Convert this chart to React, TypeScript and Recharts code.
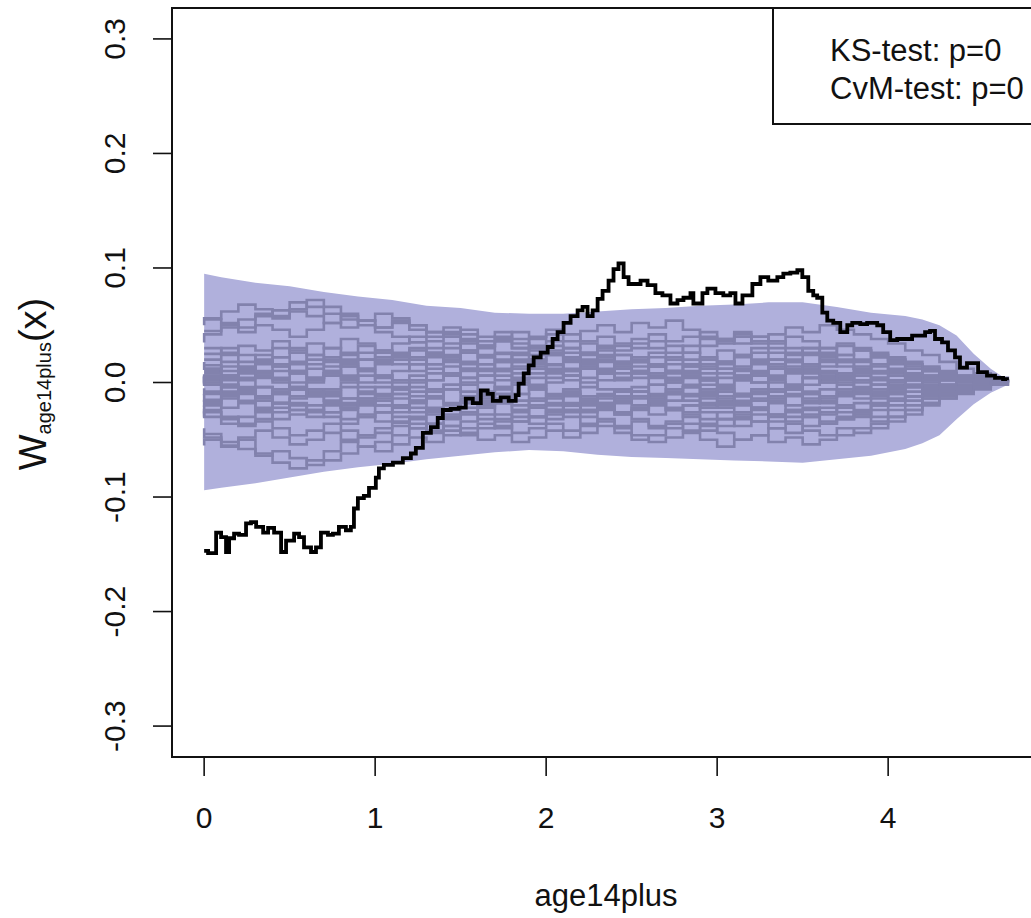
import React from 'react';
import { ComposedChart, Line, Area, XAxis, YAxis } from 'recharts';

const xTicks = [0, 1, 2, 3, 4];
const xTickLabels = ['0', '1', '2', '3', '4'];
const yTicks = [-0.3, -0.2, -0.1, 0, 0.1, 0.2, 0.3];
const yTickLabels = ['-0.3', '-0.2', '-0.1', '0.0', '0.1', '0.2', '0.3'];

const bandX = [0, 0.1, 0.3, 0.5, 0.7, 0.9, 1.1, 1.3, 1.5, 1.7, 1.9, 2.1, 2.3, 2.5, 2.7, 2.9, 3.1, 3.3, 3.5, 3.7, 3.9, 4.1, 4.2, 4.3, 4.4, 4.5, 4.6, 4.7];
const bandUpper = [0.095, 0.092, 0.087, 0.084, 0.079, 0.075, 0.072, 0.067, 0.065, 0.061, 0.060, 0.060, 0.062, 0.064, 0.065, 0.067, 0.068, 0.070, 0.070, 0.066, 0.061, 0.058, 0.055, 0.050, 0.041, 0.025, 0.012, 0.002];
const bandLower = [-0.094, -0.092, -0.088, -0.083, -0.078, -0.074, -0.071, -0.067, -0.064, -0.061, -0.059, -0.060, -0.063, -0.065, -0.066, -0.067, -0.068, -0.069, -0.070, -0.067, -0.064, -0.058, -0.053, -0.046, -0.032, -0.019, -0.009, -0.002];

const observedX = [
  0, 0.023, 0.07, 0.099, 0.128, 0.146, 0.175, 0.204, 0.245, 0.274,
  0.304, 0.345, 0.374, 0.409, 0.45, 0.479, 0.526, 0.555, 0.584, 0.625,
  0.654, 0.683, 0.724, 0.753, 0.788, 0.829, 0.858, 0.876, 0.899, 0.934,
  0.964, 1.004, 1.022, 1.051, 1.104, 1.162, 1.209, 1.238, 1.279, 1.326,
  1.366, 1.396, 1.442, 1.489, 1.53, 1.571, 1.618, 1.658, 1.688, 1.734,
  1.781, 1.822, 1.839, 1.869, 1.898, 1.927, 1.968, 2.009, 2.038, 2.067,
  2.102, 2.143, 2.184, 2.213, 2.242, 2.272, 2.301, 2.33, 2.365, 2.394,
  2.423, 2.453, 2.482, 2.523, 2.552, 2.593, 2.639, 2.68, 2.727, 2.768,
  2.803, 2.844, 2.861, 2.914, 2.943, 2.99, 3.036, 3.077, 3.107, 3.148,
  3.206, 3.253, 3.299, 3.352, 3.387, 3.428, 3.469, 3.498, 3.533, 3.562,
  3.585, 3.615, 3.644, 3.679, 3.72, 3.761, 3.79, 3.837, 3.877, 3.936,
  3.971, 4.012, 4.053, 4.088, 4.14, 4.175, 4.216, 4.245, 4.274, 4.315,
  4.35, 4.391, 4.42, 4.461, 4.496, 4.526, 4.578, 4.625, 4.672, 4.695,
];
const observedY = [
  -0.147, -0.149, -0.131, -0.135, -0.148, -0.136, -0.132, -0.133, -0.123, -0.122,
  -0.126, -0.131, -0.127, -0.131, -0.148, -0.138, -0.132, -0.135, -0.144, -0.148,
  -0.144, -0.131, -0.133, -0.132, -0.126, -0.129, -0.126, -0.110, -0.101, -0.099,
  -0.092, -0.083, -0.075, -0.072, -0.070, -0.066, -0.062, -0.057, -0.044, -0.039,
  -0.031, -0.024, -0.023, -0.022, -0.014, -0.018, -0.007, -0.010, -0.016, -0.013,
  -0.016, -0.011, -0.001, 0.008, 0.015, 0.022, 0.026, 0.031, 0.038, 0.044,
  0.052, 0.058, 0.063, 0.066, 0.058, 0.063, 0.073, 0.080, 0.089, 0.099,
  0.104, 0.092, 0.086, 0.086, 0.089, 0.085, 0.078, 0.076, 0.069, 0.072,
  0.074, 0.078, 0.069, 0.078, 0.082, 0.078, 0.076, 0.078, 0.069, 0.076,
  0.086, 0.092, 0.089, 0.092, 0.095, 0.096, 0.098, 0.092, 0.080, 0.076,
  0.074, 0.061, 0.054, 0.052, 0.044, 0.050, 0.052, 0.051, 0.052, 0.050,
  0.044, 0.037, 0.038, 0.038, 0.041, 0.041, 0.044, 0.045, 0.038, 0.035,
  0.028, 0.022, 0.013, 0.017, 0.017, 0.009, 0.006, 0.004, 0.003, 0.002,
];

const simX = [
  0, 0.1, 0.2, 0.3, 0.4, 0.5, 0.6, 0.7, 0.8, 0.9,
  1.0, 1.1, 1.2, 1.3, 1.4, 1.5, 1.6, 1.7, 1.8, 1.9,
  2.0, 2.1, 2.2, 2.3, 2.4, 2.5, 2.6, 2.7, 2.8, 2.9,
  3.0, 3.1, 3.2, 3.3, 3.4, 3.5, 3.6, 3.7, 3.8, 3.9,
  4.0, 4.1, 4.2, 4.3, 4.4, 4.5, 4.6, 4.7,
];
const sim1 = [0.045, 0.052, 0.048, 0.058, 0.063, 0.070, 0.066, 0.060, 0.055, 0.050, 0.044, 0.040, 0.035, 0.030, 0.034, 0.028, 0.022, 0.025, 0.018, 0.020, 0.015, 0.012, 0.018, 0.022, 0.016, 0.010, 0.014, 0.020, 0.026, 0.022, 0.018, 0.024, 0.030, 0.026, 0.020, 0.016, 0.022, 0.018, 0.012, 0.016, 0.010, 0.008, 0.012, 0.006, 0.004, 0.006, 0.002, 0.000];
const sim2 = [-0.040, -0.048, -0.055, -0.050, -0.062, -0.070, -0.075, -0.068, -0.060, -0.052, -0.046, -0.040, -0.035, -0.030, -0.026, -0.032, -0.028, -0.022, -0.018, -0.024, -0.020, -0.014, -0.010, -0.016, -0.012, -0.008, -0.014, -0.020, -0.016, -0.010, -0.006, -0.012, -0.018, -0.022, -0.016, -0.012, -0.018, -0.014, -0.010, -0.014, -0.010, -0.006, -0.008, -0.004, -0.006, -0.002, -0.001, 0.000];
const sim3 = [0.020, 0.026, 0.032, 0.028, 0.036, 0.030, 0.024, 0.030, 0.038, 0.034, 0.028, 0.024, 0.030, 0.026, 0.020, 0.026, 0.032, 0.036, 0.030, 0.038, 0.042, 0.036, 0.045, 0.050, 0.044, 0.052, 0.048, 0.054, 0.046, 0.040, 0.036, 0.042, 0.034, 0.030, 0.026, 0.030, 0.024, 0.020, 0.018, 0.022, 0.016, 0.012, 0.014, 0.010, 0.006, 0.004, 0.002, 0.000];
const sim4 = [-0.010, -0.016, -0.022, -0.018, -0.026, -0.032, -0.028, -0.024, -0.030, -0.036, -0.030, -0.026, -0.034, -0.040, -0.036, -0.030, -0.026, -0.032, -0.038, -0.044, -0.040, -0.036, -0.042, -0.038, -0.034, -0.040, -0.046, -0.052, -0.048, -0.044, -0.050, -0.056, -0.050, -0.046, -0.040, -0.044, -0.038, -0.034, -0.030, -0.026, -0.020, -0.016, -0.012, -0.010, -0.006, -0.004, -0.002, 0.000];
const sim5 = [0.010, 0.004, 0.012, 0.018, 0.014, 0.008, 0.016, 0.022, 0.018, 0.012, 0.020, 0.026, 0.022, 0.016, 0.024, 0.018, 0.012, 0.020, 0.026, 0.030, 0.024, 0.020, 0.026, 0.032, 0.028, 0.034, 0.030, 0.026, 0.032, 0.038, 0.034, 0.040, 0.036, 0.042, 0.048, 0.044, 0.050, 0.046, 0.042, 0.038, 0.034, 0.028, 0.024, 0.018, 0.012, 0.008, 0.004, 0.000];
const sim6 = [0.005, -0.002, -0.008, -0.004, -0.012, -0.018, -0.014, -0.008, -0.016, -0.022, -0.018, -0.026, -0.020, -0.016, -0.024, -0.030, -0.026, -0.020, -0.028, -0.034, -0.030, -0.024, -0.030, -0.036, -0.032, -0.038, -0.034, -0.040, -0.036, -0.042, -0.038, -0.044, -0.050, -0.046, -0.052, -0.048, -0.054, -0.050, -0.046, -0.040, -0.036, -0.030, -0.024, -0.018, -0.012, -0.008, -0.004, 0.000];
const sim7 = [0.000, 0.006, 0.012, 0.008, 0.002, -0.004, 0.002, 0.008, 0.014, 0.010, 0.004, 0.010, 0.016, 0.012, 0.006, 0.000, 0.006, 0.012, 0.018, 0.014, 0.008, 0.002, -0.004, 0.002, 0.008, 0.004, -0.002, 0.004, 0.010, 0.016, 0.012, 0.006, 0.000, 0.006, 0.012, 0.008, 0.002, 0.008, 0.014, 0.010, 0.006, 0.002, 0.006, 0.004, 0.002, 0.001, 0.000, 0.000];
const sim8 = [-0.015, -0.020, -0.014, -0.008, -0.012, -0.018, -0.012, -0.006, -0.010, -0.004, -0.008, -0.014, -0.010, -0.016, -0.012, -0.006, -0.002, -0.008, -0.004, 0.002, -0.004, -0.010, -0.006, -0.012, -0.018, -0.014, -0.008, -0.012, -0.006, -0.002, -0.008, -0.014, -0.010, -0.016, -0.012, -0.006, -0.010, -0.016, -0.012, -0.008, -0.012, -0.008, -0.004, -0.006, -0.002, -0.004, -0.001, 0.000];
const sim9 = [0.025, 0.030, 0.024, 0.018, 0.022, 0.028, 0.034, 0.030, 0.024, 0.020, 0.026, 0.020, 0.016, 0.022, 0.018, 0.012, 0.016, 0.010, 0.014, 0.008, 0.012, 0.018, 0.014, 0.020, 0.024, 0.018, 0.014, 0.010, 0.016, 0.012, 0.018, 0.014, 0.020, 0.016, 0.010, 0.014, 0.018, 0.024, 0.020, 0.016, 0.020, 0.016, 0.010, 0.008, 0.006, 0.004, 0.002, 0.000];
const sim10 = [-0.030, -0.024, -0.030, -0.036, -0.032, -0.026, -0.020, -0.026, -0.020, -0.014, -0.020, -0.016, -0.022, -0.018, -0.012, -0.018, -0.014, -0.020, -0.016, -0.010, -0.014, -0.020, -0.024, -0.018, -0.022, -0.028, -0.024, -0.018, -0.022, -0.026, -0.020, -0.016, -0.020, -0.024, -0.030, -0.026, -0.022, -0.026, -0.020, -0.024, -0.018, -0.014, -0.016, -0.010, -0.008, -0.004, -0.002, 0.000];
const sim11 = [0.055, 0.050, 0.044, 0.050, 0.046, 0.040, 0.046, 0.052, 0.048, 0.054, 0.060, 0.056, 0.050, 0.044, 0.048, 0.042, 0.036, 0.040, 0.034, 0.028, 0.032, 0.026, 0.020, 0.024, 0.018, 0.022, 0.016, 0.010, 0.014, 0.008, 0.012, 0.006, 0.010, 0.004, 0.008, 0.012, 0.006, 0.002, 0.006, 0.002, -0.002, 0.002, 0.004, 0.002, 0.001, 0.002, 0.001, 0.000];
const sim12 = [-0.055, -0.050, -0.056, -0.048, -0.042, -0.048, -0.054, -0.050, -0.044, -0.050, -0.056, -0.052, -0.046, -0.040, -0.044, -0.038, -0.034, -0.028, -0.032, -0.026, -0.030, -0.024, -0.020, -0.026, -0.022, -0.016, -0.020, -0.014, -0.010, -0.016, -0.012, -0.008, -0.012, -0.016, -0.012, -0.006, -0.010, -0.006, -0.002, -0.006, -0.010, -0.006, -0.004, -0.002, -0.004, -0.002, 0.000, 0.000];
const sim13 = [0.008, 0.014, 0.010, 0.016, 0.022, 0.018, 0.024, 0.020, 0.026, 0.032, 0.028, 0.034, 0.040, 0.036, 0.042, 0.046, 0.040, 0.044, 0.038, 0.032, 0.036, 0.030, 0.034, 0.028, 0.032, 0.038, 0.042, 0.036, 0.040, 0.044, 0.038, 0.034, 0.040, 0.036, 0.030, 0.026, 0.030, 0.024, 0.028, 0.022, 0.018, 0.014, 0.010, 0.008, 0.004, 0.002, 0.001, 0.000];
const sim14 = [-0.020, -0.026, -0.032, -0.038, -0.034, -0.040, -0.046, -0.042, -0.036, -0.042, -0.048, -0.044, -0.038, -0.032, -0.036, -0.042, -0.046, -0.040, -0.034, -0.030, -0.036, -0.032, -0.026, -0.030, -0.024, -0.028, -0.032, -0.038, -0.034, -0.028, -0.032, -0.026, -0.030, -0.034, -0.028, -0.024, -0.030, -0.036, -0.032, -0.028, -0.030, -0.024, -0.020, -0.014, -0.010, -0.006, -0.002, 0.000];
const sim15 = [0.012, 0.018, 0.014, 0.020, 0.016, 0.010, 0.004, 0.010, 0.006, 0.000, 0.006, 0.002, -0.004, 0.002, 0.008, 0.004, 0.010, 0.006, 0.000, -0.006, 0.000, 0.006, 0.012, 0.008, 0.002, 0.008, 0.014, 0.010, 0.004, -0.002, 0.004, 0.010, 0.006, 0.012, 0.018, 0.014, 0.008, 0.004, 0.000, 0.004, 0.008, 0.004, 0.006, 0.002, 0.004, 0.002, 0.000, 0.000];
const sim16 = [-0.005, -0.010, -0.004, -0.010, -0.016, -0.022, -0.018, -0.024, -0.018, -0.024, -0.030, -0.026, -0.020, -0.026, -0.022, -0.028, -0.022, -0.016, -0.010, -0.016, -0.022, -0.028, -0.024, -0.020, -0.014, -0.008, -0.004, -0.010, -0.016, -0.012, -0.018, -0.022, -0.026, -0.022, -0.018, -0.024, -0.028, -0.022, -0.026, -0.030, -0.024, -0.020, -0.016, -0.012, -0.008, -0.004, -0.002, 0.000];
const sim17 = [0.030, 0.024, 0.018, 0.024, 0.030, 0.026, 0.020, 0.014, 0.020, 0.026, 0.022, 0.016, 0.010, 0.016, 0.022, 0.028, 0.024, 0.018, 0.012, 0.018, 0.024, 0.020, 0.014, 0.008, 0.014, 0.020, 0.026, 0.022, 0.016, 0.022, 0.028, 0.024, 0.018, 0.012, 0.018, 0.024, 0.020, 0.014, 0.010, 0.014, 0.010, 0.006, 0.010, 0.006, 0.004, 0.002, 0.001, 0.000];
const sim18 = [-0.025, -0.030, -0.036, -0.030, -0.024, -0.018, -0.024, -0.030, -0.026, -0.020, -0.014, -0.020, -0.026, -0.022, -0.028, -0.024, -0.018, -0.012, -0.018, -0.024, -0.030, -0.026, -0.020, -0.016, -0.022, -0.018, -0.012, -0.018, -0.024, -0.020, -0.014, -0.020, -0.016, -0.010, -0.016, -0.020, -0.014, -0.018, -0.022, -0.018, -0.014, -0.010, -0.012, -0.008, -0.006, -0.004, -0.002, 0.000];
const sim19 = [0.002, -0.004, 0.002, -0.004, -0.010, -0.006, 0.000, 0.006, 0.002, -0.004, -0.010, -0.006, 0.000, -0.006, -0.002, 0.004, 0.000, -0.006, -0.002, 0.004, 0.010, 0.006, 0.000, -0.006, -0.012, -0.008, -0.002, -0.008, -0.004, 0.002, -0.004, -0.010, -0.006, 0.000, -0.006, -0.002, 0.004, 0.000, -0.006, -0.002, 0.002, -0.002, 0.002, -0.002, 0.000, 0.002, 0.000, 0.000];
const sim20 = [0.035, 0.042, 0.048, 0.055, 0.060, 0.056, 0.062, 0.058, 0.052, 0.058, 0.054, 0.048, 0.052, 0.046, 0.040, 0.044, 0.038, 0.032, 0.036, 0.030, 0.024, 0.028, 0.022, 0.026, 0.030, 0.024, 0.018, 0.022, 0.016, 0.020, 0.014, 0.018, 0.012, 0.016, 0.020, 0.014, 0.010, 0.014, 0.018, 0.012, 0.008, 0.012, 0.008, 0.004, 0.006, 0.002, 0.001, 0.000];
const sim21 = [-0.015, -0.010, -0.016, -0.022, -0.018, -0.024, -0.020, -0.026, -0.032, -0.028, -0.034, -0.030, -0.036, -0.042, -0.038, -0.044, -0.050, -0.046, -0.052, -0.048, -0.042, -0.048, -0.044, -0.038, -0.044, -0.050, -0.046, -0.040, -0.036, -0.042, -0.038, -0.032, -0.028, -0.034, -0.030, -0.024, -0.028, -0.022, -0.026, -0.020, -0.016, -0.012, -0.014, -0.010, -0.006, -0.004, -0.002, 0.000];
const sim22 = [0.018, 0.012, 0.006, 0.012, 0.008, 0.014, 0.010, 0.004, 0.010, 0.016, 0.012, 0.018, 0.024, 0.020, 0.026, 0.022, 0.016, 0.022, 0.018, 0.024, 0.020, 0.026, 0.030, 0.024, 0.018, 0.012, 0.018, 0.014, 0.008, 0.014, 0.020, 0.016, 0.022, 0.026, 0.020, 0.024, 0.030, 0.026, 0.032, 0.028, 0.024, 0.020, 0.016, 0.012, 0.008, 0.004, 0.002, 0.000];
const sim23 = [-0.008, -0.002, -0.008, -0.014, -0.008, -0.004, -0.010, -0.016, -0.022, -0.016, -0.012, -0.006, -0.012, -0.008, -0.002, -0.008, -0.014, -0.010, -0.016, -0.022, -0.018, -0.012, -0.016, -0.010, -0.006, -0.012, -0.018, -0.024, -0.020, -0.026, -0.032, -0.028, -0.022, -0.028, -0.034, -0.030, -0.036, -0.032, -0.028, -0.034, -0.030, -0.024, -0.018, -0.014, -0.010, -0.006, -0.002, 0.000];
const sim24 = [0.050, 0.056, 0.062, 0.068, 0.064, 0.058, 0.064, 0.072, 0.066, 0.060, 0.054, 0.048, 0.054, 0.050, 0.044, 0.040, 0.034, 0.030, 0.026, 0.020, 0.016, 0.010, 0.006, 0.012, 0.008, 0.004, 0.010, 0.006, 0.000, 0.006, 0.002, -0.004, 0.002, 0.006, 0.002, -0.002, 0.004, 0.000, 0.004, 0.008, 0.004, 0.000, 0.002, 0.000, 0.002, 0.001, 0.000, 0.000];
const sim25 = [-0.045, -0.052, -0.058, -0.064, -0.060, -0.066, -0.072, -0.068, -0.062, -0.056, -0.060, -0.054, -0.048, -0.052, -0.046, -0.040, -0.036, -0.040, -0.034, -0.030, -0.024, -0.020, -0.024, -0.018, -0.014, -0.008, -0.014, -0.010, -0.004, -0.010, -0.006, -0.010, -0.014, -0.008, -0.004, -0.008, -0.012, -0.008, -0.004, -0.008, -0.004, -0.002, -0.006, -0.002, -0.004, -0.001, 0.000, 0.000];
const sim26 = [0.006, 0.000, 0.006, 0.012, 0.006, 0.000, -0.006, -0.012, -0.006, 0.000, 0.006, 0.000, -0.004, 0.002, 0.008, 0.014, 0.010, 0.016, 0.010, 0.004, -0.002, 0.004, 0.010, 0.016, 0.012, 0.018, 0.014, 0.008, 0.002, 0.008, 0.004, -0.002, 0.004, 0.000, -0.006, -0.002, 0.004, 0.010, 0.006, 0.002, -0.002, 0.002, 0.006, 0.002, 0.004, 0.002, 0.000, 0.000];
const sim27 = [-0.018, -0.012, -0.006, -0.012, -0.006, 0.000, -0.006, -0.012, -0.018, -0.014, -0.020, -0.014, -0.008, -0.014, -0.020, -0.016, -0.010, -0.004, -0.010, -0.006, -0.012, -0.008, -0.014, -0.020, -0.026, -0.022, -0.016, -0.010, -0.016, -0.022, -0.018, -0.012, -0.008, -0.014, -0.010, -0.016, -0.012, -0.006, -0.010, -0.006, -0.010, -0.012, -0.008, -0.004, -0.006, -0.002, -0.001, 0.000];
const sim28 = [0.000, 0.006, 0.002, 0.008, 0.004, 0.010, 0.016, 0.012, 0.018, 0.014, 0.020, 0.016, 0.022, 0.028, 0.024, 0.030, 0.036, 0.032, 0.038, 0.044, 0.040, 0.046, 0.042, 0.036, 0.040, 0.034, 0.030, 0.036, 0.032, 0.026, 0.032, 0.038, 0.044, 0.040, 0.034, 0.040, 0.036, 0.030, 0.034, 0.030, 0.026, 0.022, 0.018, 0.012, 0.008, 0.004, 0.002, 0.000];
const sim29 = [0.015, 0.010, 0.004, 0.010, 0.004, 0.008, 0.002, 0.008, 0.004, 0.010, 0.006, 0.000, 0.006, 0.002, 0.008, 0.012, 0.006, 0.002, 0.008, 0.012, 0.016, 0.010, 0.004, 0.010, 0.014, 0.008, 0.004, 0.000, 0.006, 0.002, 0.008, 0.002, 0.008, 0.014, 0.010, 0.004, 0.000, 0.006, 0.002, -0.002, 0.002, 0.006, 0.002, 0.004, 0.002, 0.001, 0.000, 0.000];
const sim30 = [-0.002, 0.004, -0.002, -0.008, -0.004, -0.010, -0.006, -0.012, -0.008, -0.014, -0.010, -0.004, -0.010, -0.016, -0.012, -0.006, -0.012, -0.018, -0.014, -0.020, -0.016, -0.012, -0.018, -0.024, -0.020, -0.026, -0.022, -0.028, -0.024, -0.030, -0.036, -0.032, -0.038, -0.034, -0.040, -0.036, -0.042, -0.046, -0.040, -0.044, -0.040, -0.034, -0.028, -0.020, -0.014, -0.008, -0.004, 0.000];

const simPaths = [
  sim1, sim2, sim3, sim4, sim5, sim6, sim7, sim8, sim9, sim10,
  sim11, sim12, sim13, sim14, sim15, sim16, sim17, sim18, sim19, sim20,
  sim21, sim22, sim23, sim24, sim25, sim26, sim27, sim28, sim29, sim30,
];

const legendLines = ['KS-test: p=0', 'CvM-test: p=0'];
const xTitle = 'age14plus';

const bandData = bandX.map((x, i) => ({ x, band: [bandLower[i], bandUpper[i]] }));
const observedData = observedX.map((x, i) => ({ x, y: observedY[i] }));
const simData = simPaths.map((p) => simX.map((x, i) => ({ x, y: p[i] })));

const FONT = '"Liberation Sans", Arial, Helvetica, sans-serif';
const BAND = '#B0B0DC';
const PATH = '#8282AD';

const XTick = (props: any) => {
  const { x, y, index } = props;
  return (
    <text x={x} y={y + 52} textAnchor="middle" fontSize={30} fontFamily={FONT} fill="#111">
      {xTickLabels[index]}
    </text>
  );
};

const YTick = (props: any) => {
  const { x, y, index } = props;
  const bx = x - 28;
  return (
    <text x={bx} y={y} transform={`rotate(-90 ${bx} ${y})`} textAnchor="middle" fontSize={30} fontFamily={FONT} fill="#111">
      {yTickLabels[index]}
    </text>
  );
};

export default function App() {
  return (
    <div style={{ position: 'absolute', left: 0, top: 0, width: 1031, height: 918, overflow: 'hidden', background: '#fff' }}>
      <ComposedChart width={1060} height={918} margin={{ top: 8, right: 20, bottom: 0, left: 0 }}>
        <XAxis
          dataKey="x"
          type="number"
          domain={[-0.188, 4.888]}
          allowDataOverflow
          ticks={xTicks}
          interval={0}
          height={161}
          tickSize={19}
          tickMargin={0}
          axisLine={false}
          tickLine={{ stroke: '#111', strokeWidth: 1.6 }}
          tick={<XTick />}
        />
        <YAxis
          type="number"
          domain={[-0.327, 0.327]}
          allowDataOverflow
          ticks={yTicks}
          interval={0}
          width={172}
          tickSize={19}
          tickMargin={0}
          axisLine={false}
          tickLine={{ stroke: '#111', strokeWidth: 1.6 }}
          tick={<YTick />}
        />
        <Area
          data={bandData}
          dataKey="band"
          type="linear"
          stroke="none"
          fill={BAND}
          fillOpacity={1}
          isAnimationActive={false}
          dot={false}
          activeDot={false}
        />
        {simData.map((d, k) => (
          <Line
            key={`sim${k}`}
            data={d}
            dataKey="y"
            type={k % 2 === 0 ? 'stepAfter' : 'stepBefore'}
            stroke={PATH}
            strokeWidth={2.6}
            dot={false}
            activeDot={false}
            isAnimationActive={false}
          />
        ))}
        <Line
          data={observedData}
          dataKey="y"
          type="stepAfter"
          stroke="#000"
          strokeWidth={3.8}
          dot={false}
          activeDot={false}
          isAnimationActive={false}
        />
      </ComposedChart>
      <svg width={1031} height={918} style={{ position: 'absolute', left: 0, top: 0, pointerEvents: 'none' }}>
        <rect x={172} y={8} width={868} height={749} fill="none" stroke="#111" strokeWidth={2} />
        <rect x={773} y={8} width={300} height={116} fill="#fff" stroke="#111" strokeWidth={2} />
        <text x={830} y={61} fontSize={31} fontFamily={FONT} fill="#111">{legendLines[0]}</text>
        <text x={830} y={99} fontSize={31} fontFamily={FONT} fill="#111">{legendLines[1]}</text>
        <text x={606} y={906} textAnchor="middle" fontSize={31} fontFamily={FONT} fill="#111">{xTitle}</text>
        <text x={46} y={384} transform="rotate(-90 46 384)" textAnchor="middle" fontFamily={FONT} fill="#111">
          <tspan fontSize={38}>W</tspan>
          <tspan fontSize={20} dy={5}>age14plus</tspan>
          <tspan fontSize={38} dy={-5}>(x)</tspan>
        </text>
      </svg>
    </div>
  );
}
